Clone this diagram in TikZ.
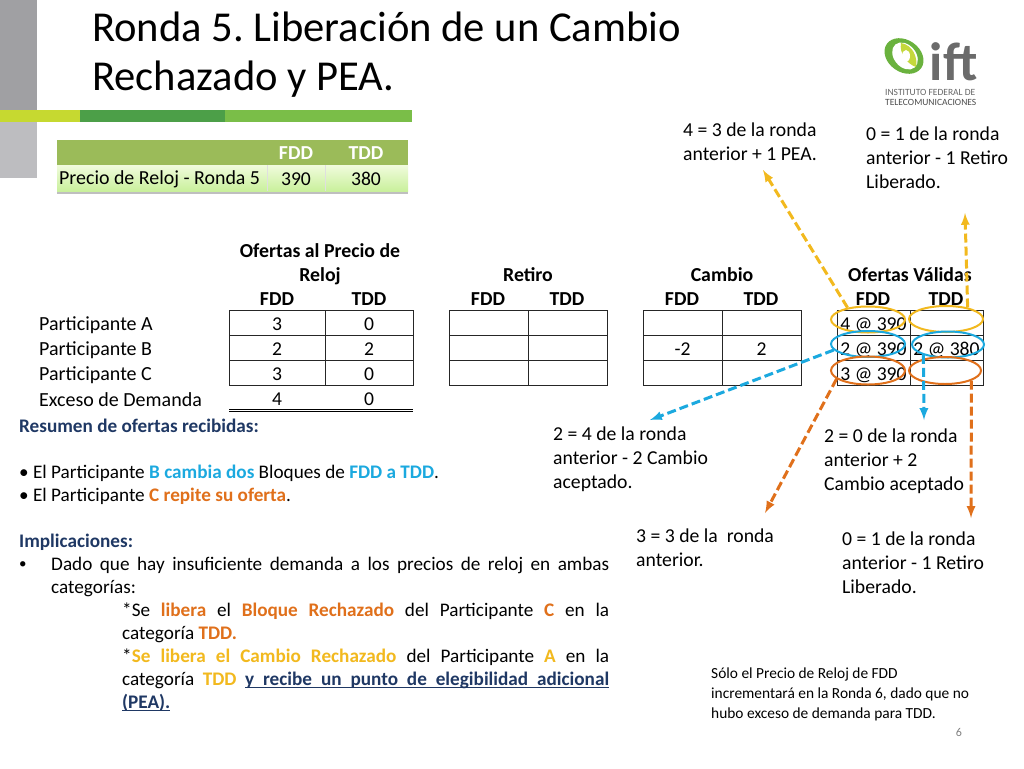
\documentclass[tikz,border=0pt]{standalone}
\usepackage{fontspec}
\setmainfont{Carlito}
\usepackage{tikz}
\usetikzlibrary{shadows,shapes.geometric}
\definecolor{azul}{HTML}{1BA9DF}
\definecolor{naranja}{HTML}{E0701B}
\definecolor{amarillo}{HTML}{F2B91E}
\definecolor{marino}{HTML}{1F3864}
\definecolor{verdeT}{HTML}{9BBB59}
\definecolor{verdeC}{HTML}{F0FBDC}
\definecolor{verdeD}{HTML}{C9F09B}
\hyphenpenalty=10000
\exhyphenpenalty=10000
\tolerance=5000
\frenchspacing
\newcommand{\pal}[1]{\setbox0\hbox{#1}\rlap{\rule[-2.6pt]{\wd0}{1pt}}\box0}
\newcommand{\esp}{\leaders\hrule height -1.6pt depth 2.6pt\hskip .23em plus .12em minus .05em\relax}
\tikzset{
  titulo/.style={anchor=west,inner sep=0pt,font=\fontsize{42.6}{50}\selectfont},
  txt/.style={anchor=west,inner sep=0pt,font=\fontsize{19.2}{23}\selectfont},
  txtB/.style={txt,font=\fontsize{19.2}{23}\selectfont\bfseries},
  fila/.style={anchor=west,inner sep=0pt,font=\fontsize{20}{23}\selectfont},
  cab/.style={inner sep=0pt,font=\fontsize{19.8}{23}\selectfont\bfseries},
  nota/.style={anchor=north west,inner sep=0pt,align=left,font=\fontsize{19.7}{24}\selectfont},
  parrafo/.style={anchor=north west,inner sep=0pt,align=justify,font=\fontsize{19.2}{23}\selectfont},
  celda/.style={draw=black!85,line width=.8pt,inner sep=0pt,minimum height=25pt,text height=15pt,text depth=0pt,font=\fontsize{19.6}{23}\selectfont},
  celdaA/.style={celda,minimum width=96pt},
  celdaB/.style={celda,minimum width=88pt},
  celdaC/.style={celda,minimum width=79pt},
  celdaD/.style={celda,minimum width=73pt},
  valor/.style={inner sep=0pt,font=\fontsize{19.6}{23}\selectfont},
  elipse/.style={draw,ellipse,line width=2pt,inner sep=0pt,minimum width=74pt,minimum height=26pt},
  flecha/.style={line width=3pt,dash pattern=on 9pt off 4pt,-latex}
}
\begin{document}
\begin{tikzpicture}[x=1pt,y=-1pt]
  \useasboundingbox (0,0) rectangle (1024,768);
  \fill[white] (0,0) rectangle (1024,768);

  \fill[color={rgb,255:red,160;green,160;blue,163}] (0,0) rectangle (37,110);
  \fill[color={rgb,255:red,189;green,189;blue,192}] (0,122) rectangle (37,178);
  \fill[color={rgb,255:red,198;green,217;blue,48}] (0,110) rectangle (80,122);
  \fill[color={rgb,255:red,76;green,159;blue,72}] (80,110) rectangle (225,122);
  \fill[color={rgb,255:red,122;green,190;blue,72}] (225,110) rectangle (412,122);

  \node[titulo] (T1) at (92,26.5) {Ronda 5. Liberación de un Cambio};
  \node[titulo] (T2) at (92,79) {Rechazado y PEA.};

  \fill[color={rgb,255:red,106;green,178;blue,62},rotate around={-35:(904,56)}] (904,56) ellipse [x radius=21pt,y radius=16pt];
  \fill[white,rotate around={-50:(905,56)}] (905,56) ellipse [x radius=15pt,y radius=11pt];
  \fill[color={rgb,255:red,196;green,216;blue,60}] (901,43) .. controls (913,45) and (918,58) .. (916,67) .. controls (907,64) and (899,53) .. (901,43);
  \fill[white] (906,56) ellipse [x radius=4pt,y radius=6pt];
  \node[inner sep=0pt,text=black!58,font=\fontsize{54}{54}\selectfont\bfseries] (ift) at (953.5,62) {i{}f{}t};
  \node[anchor=west,inner sep=0pt,text=black!60,font=\fontsize{9.5}{10}\selectfont] (ift1) at (885,92) {INSTITUTO FEDERAL DE};
  \node[anchor=west,inner sep=0pt,text=black!70,font=\fontsize{9.5}{10}\selectfont] (ift2) at (885,102) {TELECOMUNICACIONES};

  \node[anchor=north west,inner sep=0pt,minimum width=351pt,minimum height=51pt,fill=verdeT,drop shadow={shadow xshift=0pt,shadow yshift=-3pt,opacity=.5}] (P0) at (57,140) {};
  \node[anchor=north west,inner sep=0pt,minimum width=351pt,minimum height=26pt,top color=verdeC,bottom color=verdeD] (P1) at (57,165) {};
  \draw[white!75!gray] (267,165) -- (267,191) (325,165) -- (325,191);
  \node[cab,text=white] (PF) at (296,153) {FDD};
  \node[cab,text=white] (PT) at (366,153) {TDD};
  \node[fila,font=\fontsize{19.9}{23}\selectfont] (PL) at (59,179) {Precio de Reloj - Ronda 5};
  \node[valor] (PA) at (296,179) {390};
  \node[valor] (PB) at (366,179) {380};

  \node[cab,align=center,font=\fontsize{19.8}{24}\selectfont\bfseries] (H1) at (320,264) {Ofertas al Precio de\\Reloj};
  \node[cab] (H2) at (528,274.5) {Retiro};
  \node[cab] (H3) at (722,274.5) {Cambio};
  \node[cab] (H4) at (910,274.5) {Ofertas Válidas};
  \node[cab] (F1) at (277,299.5) {FDD};
  \node[cab] (D1) at (369,299.5) {TDD};
  \node[cab] (F2) at (488,299.5) {FDD};
  \node[cab] (D2) at (567,299.5) {TDD};
  \node[cab] (F3) at (682,299.5) {FDD};
  \node[cab] (D3) at (761,299.5) {TDD};
  \node[cab] (F4) at (873,299.5) {FDD};
  \node[cab] (D4) at (946,299.5) {TDD};

  \node[fila] (L1) at (39,325) {Participante A};
  \node[fila] (L2) at (39,350) {Participante B};
  \node[fila] (L3) at (39,375) {Participante C};
  \node[fila] (L4) at (39,399.5) {Exceso de Demanda};

  \node[celdaA] (a1) at (277,323) {3};
  \node[celdaB] (b1) at (369,323) {0};
  \node[celdaA] (a2) at (277,348) {2};
  \node[celdaB] (b2) at (369,348) {2};
  \node[celdaA] (a3) at (277,373) {3};
  \node[celdaB] (b3) at (369,373) {0};
  \node[valor] (a4) at (277,399) {4};
  \node[valor] (b4) at (369,399) {0};
  \coordinate (s1) at (229,410.5);
  \coordinate (s2) at (413,410.5);
  \draw[double,double distance=1pt,line width=.7pt] (s1) -- (s2);

  \node[celdaC] (c1) at (488.5,323) {};
  \node[celdaC] (d1) at (567.5,323) {};
  \node[celdaC] (c2) at (488.5,348) {};
  \node[celdaC] (d2) at (567.5,348) {};
  \node[celdaC] (c3) at (488.5,373) {};
  \node[celdaC] (d3) at (567.5,373) {};

  \node[celdaC] (e1) at (682.5,323) {};
  \node[celdaC] (f1) at (761.5,323) {};
  \node[celdaC] (e2) at (682.5,348) {-2};
  \node[celdaC] (f2) at (761.5,348) {2};
  \node[celdaC] (e3) at (682.5,373) {};
  \node[celdaC] (f3) at (761.5,373) {};

  \node[celdaD] (g1) at (873.5,323) {4 @ 390};
  \node[celdaD] (h1) at (946.5,323) {};
  \node[celdaD] (g2) at (873.5,348) {2 @ 390};
  \node[celdaD] (h2) at (946.5,348) {2 @ 380};
  \node[celdaD] (g3) at (873.5,373) {3 @ 390};
  \node[celdaD] (h3) at (946.5,373) {};

  \node[elipse,draw=amarillo] (YA) at (868,319.5) {};
  \node[elipse,draw=amarillo] (YB) at (946,319) {};
  \node[elipse,draw=azul] (BA) at (868,344) {};
  \node[elipse,draw=azul,minimum width=72pt] (BB) at (948,344.5) {};
  \node[elipse,draw=naranja,minimum height=28pt] (NA) at (868,370.5) {};
  \node[elipse,draw=naranja,minimum width=72pt,minimum height=27pt] (NB) at (945,370.5) {};

  \node[nota] (N1) at (683,123) {4 = 3 de la ronda\\anterior + 1 PEA.};
  \node[nota] (N2) at (866,127) {0 = 1 de la ronda\\anterior - 1 Retiro\\Liberado.};
  \node[nota] (N3) at (553,427) {2 = 4 de la ronda\\anterior - 2 Cambio\\aceptado.};
  \node[nota] (N4) at (824,429) {2 = 0 de la ronda\\anterior + 2\\Cambio aceptado};
  \node[nota] (N5) at (636,529) {3 = 3 de la\ \ ronda\\anterior.};
  \node[nota] (N6) at (842,532) {0 = 1 de la ronda\\anterior - 1 Retiro\\Liberado.};

  \coordinate (q1) at (763,170);
  \coordinate (q2) at (965,213);
  \coordinate (q3) at (650,420);
  \coordinate (q4) at (924,420);
  \coordinate (q5) at (765,513);
  \coordinate (q6) at (971,518);
  \draw[flecha,amarillo] (YA.150) -- (q1);
  \draw[flecha,amarillo] (YB.28) -- (q2);
  \draw[flecha,azul] (BA.190) -- (q3);
  \draw[flecha,azul] (BB.203) -- (q4);
  \draw[flecha,naranja] (NA.195) -- (q5);
  \draw[flecha,naranja] (NB.-21) -- (q6);

  \node[txtB,text=marino] (R1) at (19,426) {Resumen de ofertas recibidas:};
  \node[txt] (R2) at (19,473) {• El Participante \textcolor{azul}{\bfseries B cambia dos} Bloques de \textcolor{azul}{\bfseries FDD a TDD}.};
  \node[txt] (R3) at (19,496) {• El Participante \textcolor{naranja}{\bfseries C repite su oferta}.};
  \node[txtB,text=marino] (R4) at (19,542) {Implicaciones:};
  \node[txt,font=\fontsize{15}{23}\selectfont] (R5) at (19,565) {•};
  \node[parrafo,text width=558pt] (R6) at (51,556.5) {Dado que hay insuficiente demanda a los precios de reloj en ambas categorías:};
  \node[parrafo,text width=487pt] (R7) at (122,602.5) {*Se \textcolor{naranja}{\bfseries libera} el \textcolor{naranja}{\bfseries Bloque Rechazado} del Participante \textcolor{naranja}{\bfseries C} en la categoría \textcolor{naranja}{\bfseries TDD.}};
  \node[parrafo,text width=487pt] (R8) at (122,648.5) {*\textcolor{amarillo}{\bfseries Se libera el Cambio Rechazado} del Participante \textcolor{amarillo}{\bfseries A} en la categoría \textcolor{amarillo}{\bfseries TDD} \textcolor{marino}{\bfseries\pal{y}\esp\pal{recibe}\esp\pal{un}\esp\pal{punto}\esp\pal{de}\esp\pal{elegibilidad}\esp\pal{adicional}\esp\pal{(PEA).}}};

  \node[anchor=north west,inner sep=0pt,align=left,font=\fontsize{15.4}{20}\selectfont] (S1) at (711,668) {Sólo el Precio de Reloj de FDD\\incrementará en la Ronda 6, dado que no\\hubo exceso de demanda para TDD.};
  \node[inner sep=0pt,text=black!50,font=\fontsize{12}{14}\selectfont] (S2) at (959,732) {6};
\end{tikzpicture}
\end{document}
